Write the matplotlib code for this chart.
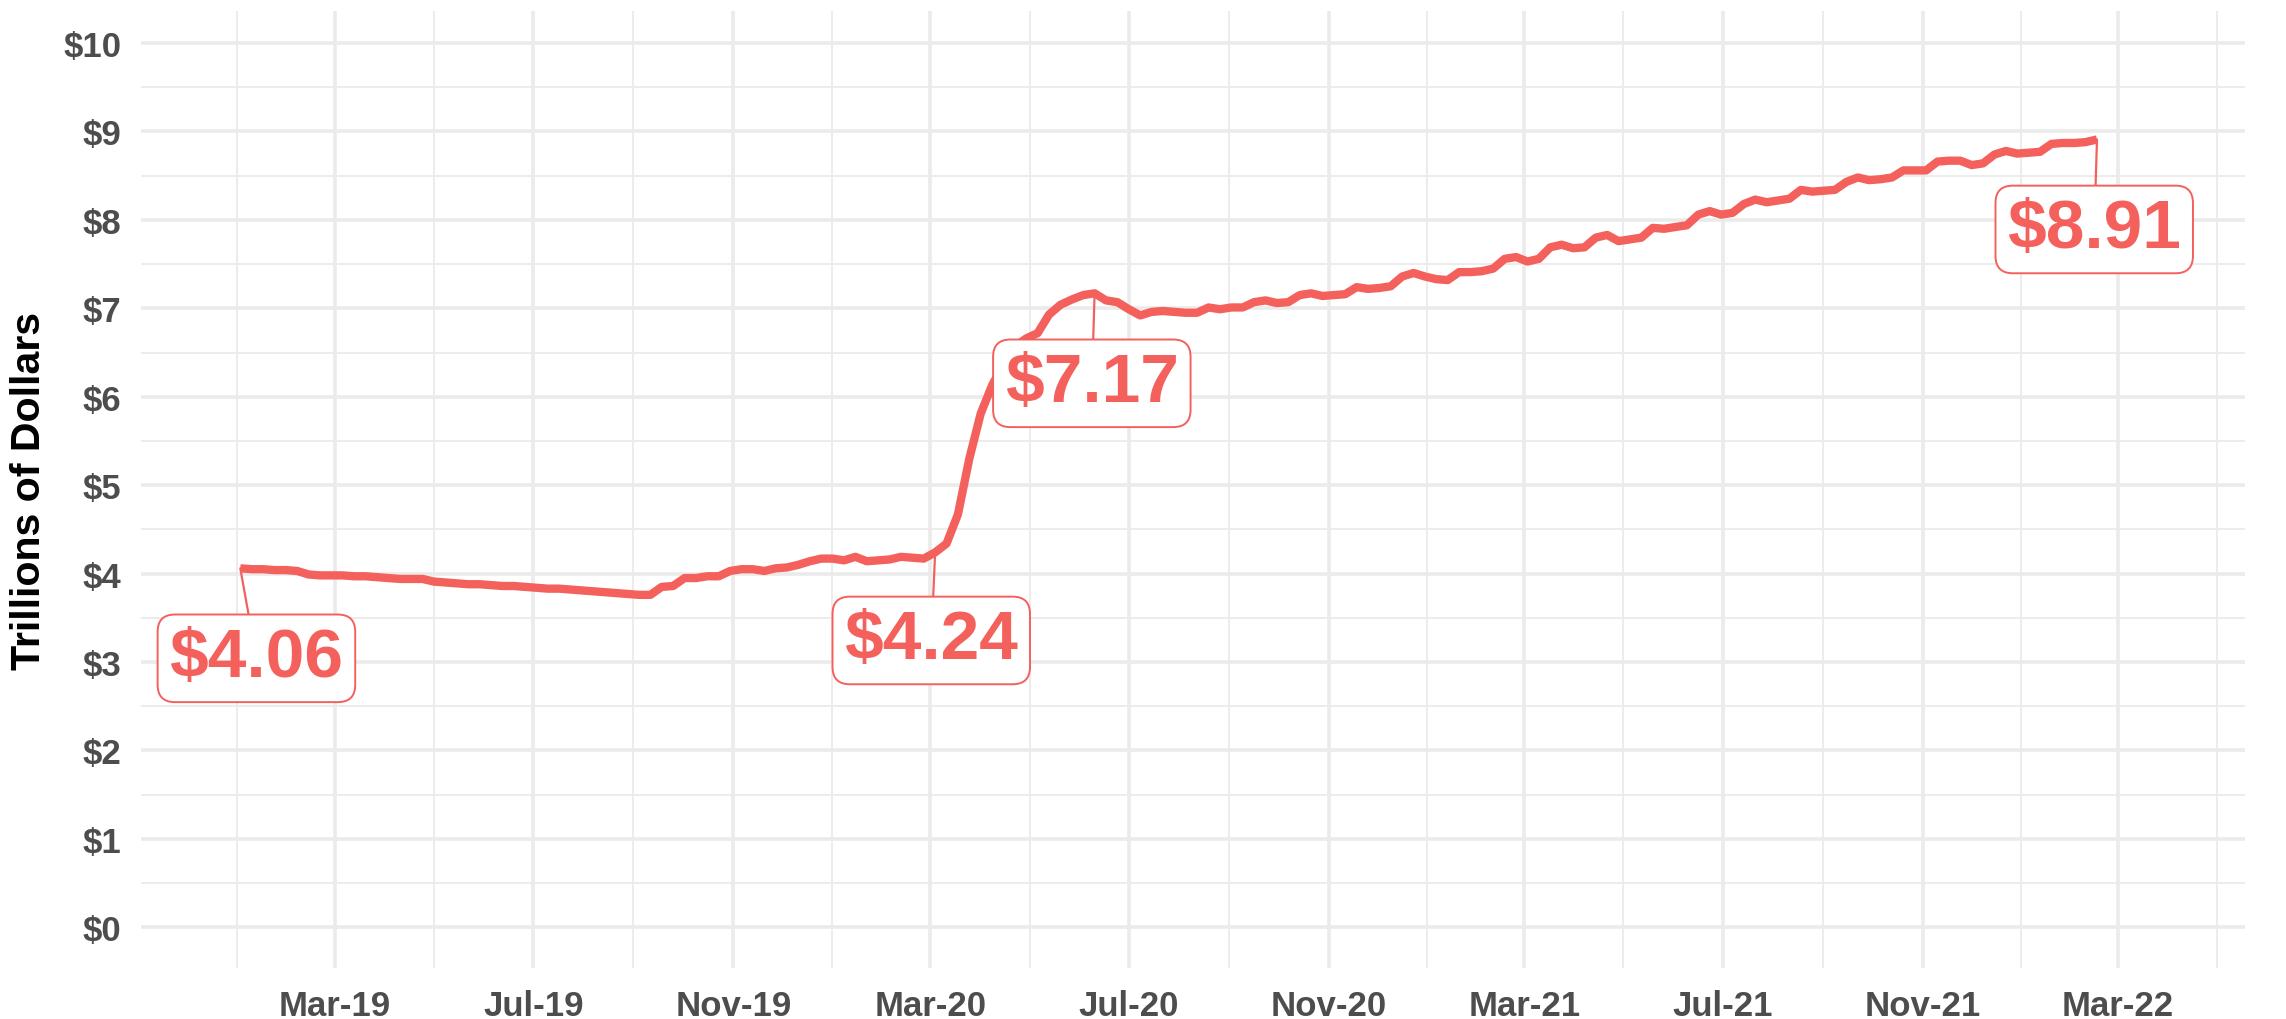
import matplotlib
matplotlib.use("Agg")
import matplotlib.pyplot as plt
import matplotlib.dates as mdates
from matplotlib.ticker import FixedLocator, FuncFormatter, MultipleLocator
import numpy as np
import pandas as pd

plt.rcParams["font.family"] = ["Liberation Sans", "DejaVu Sans"]

# weekly Fed total assets, trillions of dollars (Wednesdays from 2019-01-02)
START_DATE = "2019-01-02"
values_2019 = [
    4.06, 4.05, 4.05, 4.04, 4.04,
    4.03, 3.99, 3.98, 3.98,
    3.98, 3.97, 3.97, 3.96,
    3.95, 3.94, 3.94, 3.94,
    3.91, 3.90, 3.89, 3.88, 3.88,
    3.87, 3.86, 3.86, 3.85,
    3.84, 3.83, 3.83, 3.82, 3.81,
    3.80, 3.79, 3.78, 3.77,
    3.76, 3.76, 3.85, 3.86,
    3.95, 3.95, 3.97, 3.97, 4.03,
    4.05, 4.05, 4.03, 4.06,
    4.07, 4.10, 4.14, 4.17,
]
values_2020 = [
    4.17, 4.15, 4.19, 4.14, 4.15,
    4.16, 4.19, 4.18, 4.17,
    4.24, 4.34, 4.67, 5.30,
    5.81, 6.13, 6.37, 6.57, 6.66,
    6.72, 6.93, 7.04, 7.10,
    7.15, 7.17, 7.09, 7.07,
    6.99, 6.92, 6.96, 6.97, 6.96,
    6.95, 6.95, 7.01, 6.99,
    7.01, 7.01, 7.07, 7.09, 7.06,
    7.07, 7.15, 7.17, 7.14,
    7.15, 7.16, 7.24, 7.22,
    7.23, 7.25, 7.36, 7.40, 7.36,
]
values_2021 = [
    7.33, 7.32, 7.41, 7.41,
    7.42, 7.45, 7.56, 7.58,
    7.53, 7.56, 7.69, 7.72, 7.68,
    7.69, 7.80, 7.83, 7.76,
    7.78, 7.80, 7.91, 7.90,
    7.92, 7.94, 8.06, 8.10, 8.06,
    8.08, 8.18, 8.23, 8.20,
    8.22, 8.24, 8.34, 8.32,
    8.33, 8.34, 8.43, 8.48, 8.45,
    8.46, 8.48, 8.56, 8.56,
    8.56, 8.66, 8.67, 8.67,
    8.62, 8.64, 8.74, 8.78, 8.75,
]
values_2022 = [8.76, 8.77, 8.86, 8.87, 8.87, 8.88, 8.91]

label_dates = ["2019-01-02", "2020-03-04", "2020-06-10", "2022-02-16"]
y_ticks = [0, 1, 2, 3, 4, 5, 6, 7, 8, 9, 10]

RED = "#F4605C"
GRID = "#EBEBEB"

values = values_2019 + values_2020 + values_2021 + values_2022
dates = pd.date_range(START_DATE, periods=len(values), freq="7D")
series = pd.Series(values, index=dates)

fig = plt.figure(figsize=(11.43, 5.10), dpi=200)
ax = fig.add_axes([0.0617, 0.050, 0.9204, 0.938])

ax.plot(series.index, series.values, color=RED, lw=3.0,
        solid_joinstyle="round", solid_capstyle="butt", zorder=2)

# label boxes below each highlighted point
offsets = [(5.8, -32.4), (-1.4, -31.7), (-1.0, -32.4), (-1.0, -32.4)]
for d, off in zip(label_dates, offsets):
    d = pd.Timestamp(d)
    v = series[d]
    ax.annotate(f"${v:.2f}", xy=(d, v), xytext=off, textcoords="offset points",
                ha="center", va="center", fontsize=25, fontweight="bold", color=RED,
                bbox=dict(boxstyle="round,pad=0.17,rounding_size=0.25",
                          fc="white", ec=RED, lw=0.7),
                arrowprops=dict(arrowstyle="-", color=RED, lw=0.8,
                                shrinkA=0, shrinkB=0),
                zorder=3)

# x axis: majors every 4 months, minors halfway between
majors_ext = pd.date_range("2018-11-01", "2022-07-01", freq="4MS")
major_num = mdates.date2num(majors_ext)
minor_num = (major_num[:-1] + major_num[1:]) / 2
ax.xaxis.set_major_locator(FixedLocator(major_num))
ax.xaxis.set_minor_locator(FixedLocator(minor_num))
ax.xaxis.set_major_formatter(mdates.DateFormatter("%b-%y"))
ax.set_xlim(pd.Timestamp("2018-11-02"), pd.Timestamp("2022-05-18"))

ax.set_yticks(y_ticks)
ax.yaxis.set_minor_locator(MultipleLocator(0.5))
ax.yaxis.set_major_formatter(FuncFormatter(lambda v, p: f"${v:.0f}"))
ax.set_ylim(-0.46, 10.36)

ax.grid(which="major", color=GRID, lw=1.3, zorder=0)
ax.grid(which="minor", color=GRID, lw=0.65, zorder=0)
ax.set_axisbelow(True)
for s in ax.spines.values():
    s.set_visible(False)

ax.tick_params(which="both", length=0)
ax.tick_params(axis="x", pad=7.5, labelsize=12.5, labelcolor="#4D4D4D")
ax.tick_params(axis="y", pad=7, labelsize=12.5, labelcolor="#4D4D4D")
for lab in ax.get_xticklabels() + ax.get_yticklabels():
    lab.set_fontweight("bold")

ax.set_ylabel("Trillions of Dollars", fontsize=14.8, fontweight="bold", color="black")
ax.yaxis.set_label_coords(-0.044, 0.5)

fig.savefig("out.png", dpi=200, facecolor="white")
